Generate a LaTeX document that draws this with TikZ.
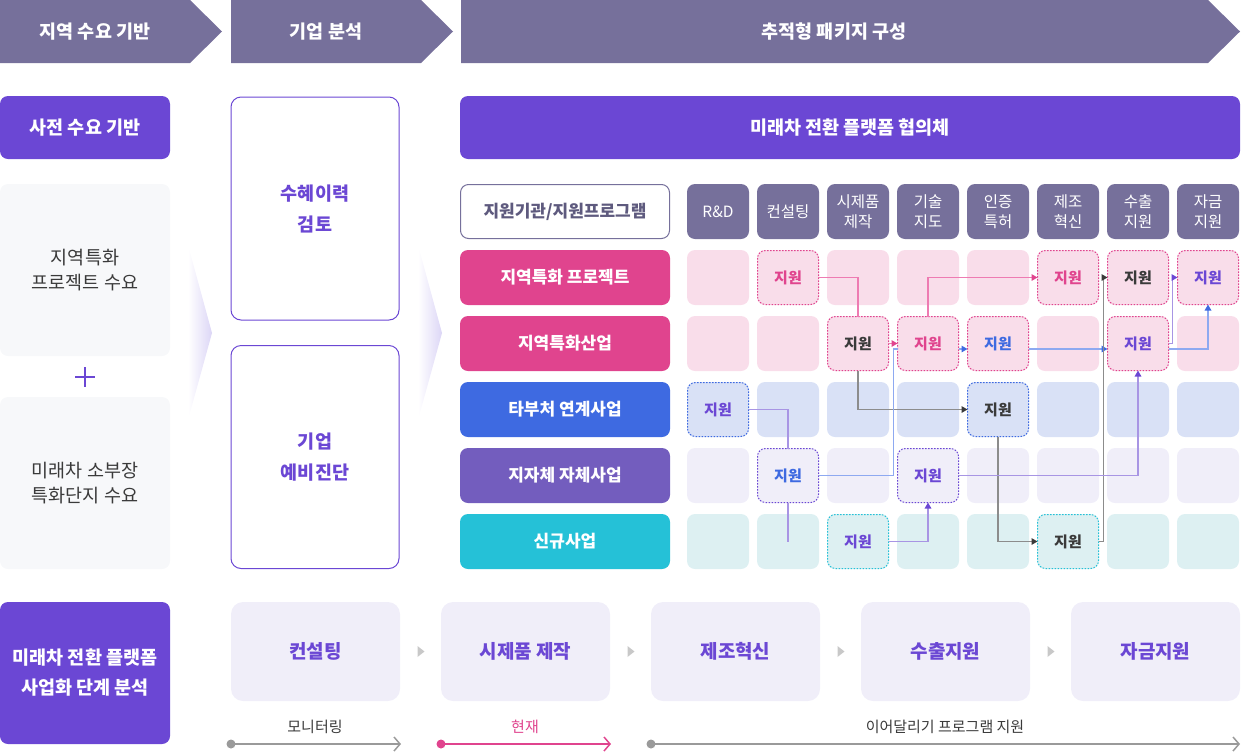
\documentclass[tikz,border=0pt]{standalone}
\usepackage{fontspec}
\setmainfont{Noto Sans CJK KR}
\usetikzlibrary{arrows.meta,calc}
\definecolor{hdrc}{HTML}{76709B}
\definecolor{pur}{HTML}{6B47D4}
\definecolor{pinkc}{HTML}{E0448E}
\definecolor{bluec}{HTML}{3E6AE1}
\definecolor{purrow}{HTML}{735DBE}
\definecolor{cyanc}{HTML}{25C1D7}
\definecolor{pinkl}{HTML}{F9DDEA}
\definecolor{bluel}{HTML}{D9E1F6}
\definecolor{lavl}{HTML}{F0EEF9}
\definecolor{cyanl}{HTML}{DDF0F2}
\definecolor{grayl}{HTML}{F7F8FA}
\definecolor{darkt}{HTML}{3A3A3A}
\definecolor{labt}{HTML}{5E5A7E}
\definecolor{pinkln}{HTML}{EE7BB2}
\definecolor{blueln}{HTML}{8EA9F1}
\definecolor{purln}{HTML}{A895E4}
\definecolor{grayln}{HTML}{8C8C8C}
\definecolor{lav2}{HTML}{DCD6F6}
\definecolor{tric}{HTML}{C8C8C8}
\definecolor{botln}{HTML}{9A9A9A}
\tikzset{
  hdrtext/.style={text=white,font=\bfseries\fontsize{18.5}{20}\selectfont},
  purbox/.style={fill=pur,rounded corners=8pt,text=white,align=center,font=\bfseries\fontsize{18.5}{30}\selectfont},
  graybox/.style={fill=grayl,rounded corners=8pt,text=darkt,align=center,minimum width=170pt,minimum height=172pt,font=\fontsize{18.5}{25}\selectfont},
  outbox/.style={draw=pur,line width=1pt,fill=white,rounded corners=10pt,text=pur,align=center,minimum width=168pt,minimum height=223pt,font=\bfseries\fontsize{18.5}{31}\selectfont},
  rowlab/.style={rounded corners=8pt,text=white,minimum width=210pt,minimum height=55pt,font=\bfseries\fontsize{17}{18}\selectfont},
  colhead/.style={fill=hdrc,rounded corners=8pt,text=white,align=center,minimum width=62pt,minimum height=55pt,font=\fontsize{15.5}{20}\selectfont},
  cell/.style={rounded corners=8pt,minimum width=62pt,minimum height=55pt},
  supcell/.style={rounded corners=8pt,minimum width=61pt,minimum height=54pt,line width=1pt,dash pattern=on 1.5pt off 1.5pt,font=\bfseries\fontsize{15}{18}\selectfont},
  botbox/.style={fill=lavl,rounded corners=12pt,text=pur,minimum width=169pt,minimum height=99pt,font=\bfseries\fontsize{19}{20}\selectfont},
  ln/.style={line width=1.6pt},
  tip/.style={-{Triangle[length=6pt,width=6.5pt,color=#1]}},
  bline/.style={line width=1.8pt,-{Straight Barb[length=6pt,width=14pt,line width=1.5pt]}},
  btext/.style={font=\fontsize{15}{16}\selectfont,text=darkt}
}
\begin{document}
\begin{tikzpicture}[x=1pt,y=-1pt,every node/.style={inner sep=0pt,outer sep=0pt}]
\useasboundingbox (0,0) rectangle (1241,753);
% header chevrons
\fill[hdrc] (0,0) -- (190,0) -- (222,31.5) -- (190,63) -- (0,63) -- cycle;
\fill[hdrc] (231,0) -- (421,0) -- (453,31.5) -- (421,63) -- (231,63) -- cycle;
\fill[hdrc] (461,0) -- (1208,0) -- (1240,31.5) -- (1208,63) -- (461,63) -- cycle;
\node[hdrtext] (h1) at (95,32) {지역 수요 기반};
\node[hdrtext] (h2) at (326,32) {기업 분석};
\node[hdrtext] (h3) at (834,32) {추적형 패키지 구성};
% left column
\node[purbox,minimum width=170pt,minimum height=63pt] (pre) at (85,127.5) {사전 수요 기반};
\node[graybox] (d1) at (85,270) {지역특화\\프로젝트 수요};
\node[graybox] (d2) at (85,483) {미래차 소부장\\특화단지 수요};
\coordinate (plus) at (85,377);
\draw[pur,line width=1.5pt] ($(plus)+(-10,0)$) -- ($(plus)+(10,0)$);
\draw[pur,line width=1.5pt] ($(plus)+(0,-10)$) -- ($(plus)+(0,10)$);
% gradient chevrons
\shade[left color=white,right color=lav2] (188,245) -- (212,333) -- (188,420) -- cycle;
\shade[left color=white,right color=lav2] (418,245) -- (442,333) -- (418,420) -- cycle;
% middle column
\node[outbox] (m1) at (315,208.5) {수혜이력\\검토};
\node[outbox] (m2) at (315,457) {기업\\예비진단};
% right area
\node[purbox,minimum width=780pt,minimum height=63pt] (plat) at (850,127.5) {미래차 전환 플랫폼 협의체};
\node[draw=hdrc,line width=1pt,fill=white,rounded corners=8pt,minimum width=209pt,minimum height=54pt,text=labt,font=\bfseries\fontsize{17}{18}\selectfont] (org) at (565,211.5) {지원기관/지원프로그램};
\node[colhead] (k1) at (718,211.5) {R\&D};
\node[colhead] (k2) at (788,211.5) {컨설팅};
\node[colhead] (k3) at (858,211.5) {시제품\\제작};
\node[colhead] (k4) at (928,211.5) {기술\\지도};
\node[colhead] (k5) at (998,211.5) {인증\\특허};
\node[colhead] (k6) at (1068,211.5) {제조\\혁신};
\node[colhead] (k7) at (1138,211.5) {수출\\지원};
\node[colhead] (k8) at (1208,211.5) {자금\\지원};
\node[rowlab,fill=pinkc] (r1) at (565,277.5) {지역특화 프로젝트};
\node[rowlab,fill=pinkc] (r2) at (565,343.5) {지역특화산업};
\node[rowlab,fill=bluec] (r3) at (565,409.5) {타부처 연계사업};
\node[rowlab,fill=purrow] (r4) at (565,475.5) {지자체 자체사업};
\node[rowlab,fill=cyanc] (r5) at (565,541.5) {신규사업};
\foreach \r/\col in {1/pinkl,2/pinkl,3/bluel,4/lavl,5/cyanl}{
  \foreach \c in {1,...,8}{
    \node[cell,fill=\col] (c\r\c) at ({718+70*(\c-1)},{277.5+66*(\r-1)}) {};
  }
}
% support cells
\node[supcell,draw=pinkc,text=pinkc] (s12) at (c12) {지원};
\node[supcell,draw=pinkc,text=pinkc] (s16) at (c16) {지원};
\node[supcell,draw=pinkc,text=darkt] (s17) at (c17) {지원};
\node[supcell,draw=pinkc,text=pur] (s18) at (c18) {지원};
\node[supcell,draw=pinkc,text=darkt] (s23) at (c23) {지원};
\node[supcell,draw=pinkc,text=pinkc] (s24) at (c24) {지원};
\node[supcell,draw=pinkc,text=bluec] (s25) at (c25) {지원};
\node[supcell,draw=pinkc,text=pur] (s27) at (c27) {지원};
\node[supcell,draw=bluec,text=pur] (s31) at (c31) {지원};
\node[supcell,draw=bluec,text=darkt] (s35) at (c35) {지원};
\node[supcell,draw=pur,text=bluec] (s42) at (c42) {지원};
\node[supcell,draw=pur,text=pur] (s44) at (c44) {지원};
\node[supcell,draw=cyanc,text=pur] (s53) at (c53) {지원};
\node[supcell,draw=cyanc,text=darkt] (s56) at (c56) {지원};
% connectors
\draw[ln,pinkln] (s12.east) -| (s23.north);
\draw[ln,pinkln,tip=pinkc] (s23.east) -- (s24.west);
\draw[ln,pinkln,tip=pinkc] (s24.north) |- (s16.west);
\draw[ln,blueln,tip=bluec] ([yshift=-5.5pt]s24.east) -- ([yshift=-5.5pt]s25.west);
\draw[ln,blueln,tip=bluec] ([yshift=-5.5pt]s25.east) -- ([yshift=-5.5pt]s27.west);
\draw[ln,blueln,tip=bluec] ([yshift=-5.5pt]s27.east) -| (s18.south);
\draw[ln,purln,tip=pur] (s27.east) -- ++(4,0) |- (s18.west);
\draw[ln,grayln,tip=darkt] (s23.south) |- (s35.west);
\draw[ln,grayln,tip=darkt] (s35.south) |- (s56.west);
\draw[ln,grayln,tip=darkt] (s56.east) -- ++(5,0) |- (s17.west);
\draw[ln,purln] (s31.east) -| (s42.north);
\draw[ln,purln] (s42.south) -- (c52.center);
\coordinate (bend) at ($(s24.west)+(-4,5.5)$);
\draw[ln,blueln] (s42.east) -| (bend) -- ([yshift=-5.5pt]s24.west);
\draw[ln,purln,tip=pur] (s53.east) -| (s44.south);
\draw[ln,purln,tip=pur] (s44.east) -| (s27.south);
% bottom row
\node[purbox,minimum width=170pt,minimum height=142pt] (biz) at (85,673) {미래차 전환 플랫폼\\사업화 단계 분석};
\node[botbox] (b1) at (315.5,651.5) {컨설팅};
\node[botbox] (b2) at (525.5,651.5) {시제품 제작};
\node[botbox] (b3) at (735.5,651.5) {제조혁신};
\node[botbox] (b4) at (945.5,651.5) {수출지원};
\node[botbox] (b5) at (1155.5,651.5) {자금지원};
\foreach \a/\b in {b1/b2,b2/b3,b3/b4,b4/b5}{
  \coordinate (t\a) at ($(\a.east)!0.5!(\b.west)$);
  \fill[tric] ($(t\a)+(-3,-5.5)$) -- ($(t\a)+(4,0)$) -- ($(t\a)+(-3,5.5)$) -- cycle;
}
\node[btext] (l1) at (315,727) {모니터링};
\node[btext,text=pinkc] (l2) at (525,727) {현재};
\node[btext] (l3) at (945,727) {이어달리기 프로그램 지원};
\coordinate (p1) at (231,744); \coordinate (p1e) at (401,744);
\coordinate (p2) at (441,744); \coordinate (p2e) at (611,744);
\coordinate (p3) at (651,744); \coordinate (p3e) at (1240,744);
\draw[bline,botln] (p1) -- (p1e);
\fill[botln] (p1) circle (4.5pt);
\draw[bline,pinkc] (p2) -- (p2e);
\fill[pinkc] (p2) circle (4.5pt);
\draw[bline,botln] (p3) -- (p3e);
\fill[botln] (p3) circle (4.5pt);
\end{tikzpicture}
\end{document}
